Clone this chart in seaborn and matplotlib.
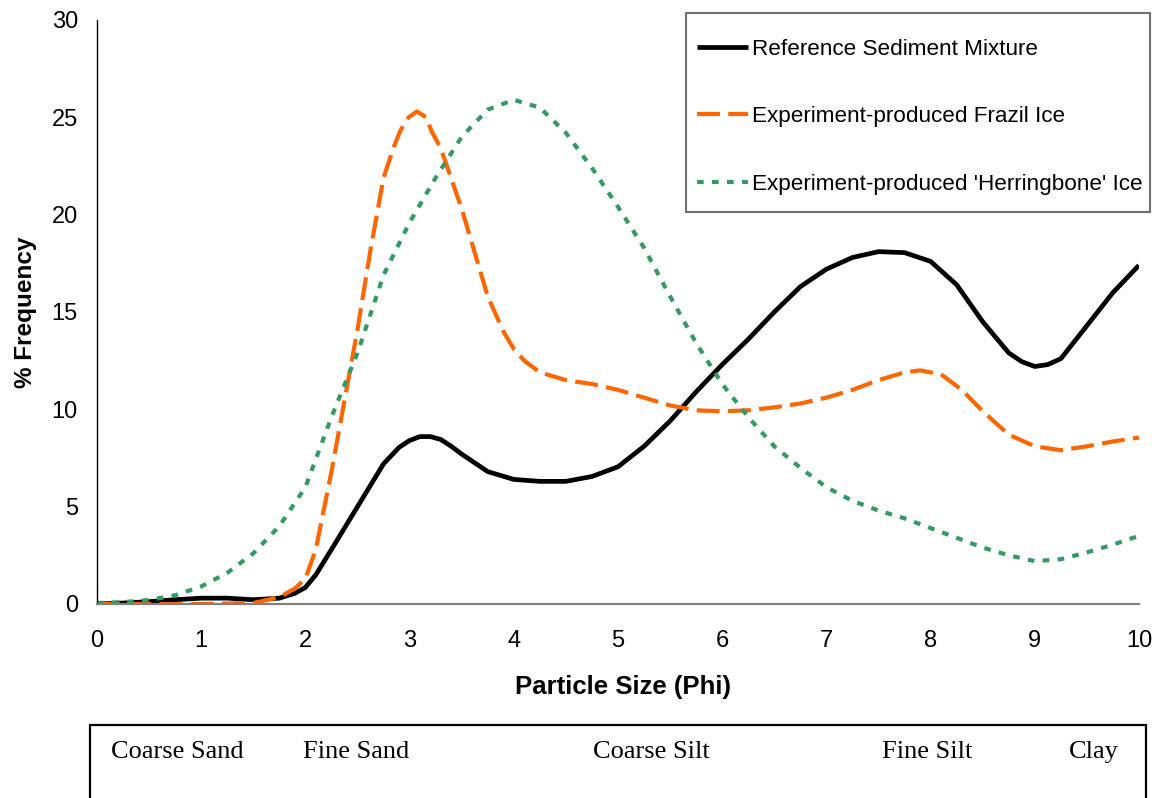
import matplotlib
matplotlib.use("Agg")
import matplotlib.pyplot as plt
from matplotlib.patches import Rectangle
import matplotlib.transforms as mtrans
import seaborn as sns
import pandas as pd

# ---- data ----
ref_phi = [0.0, 0.25, 0.5, 0.75, 1.0, 1.25, 1.5, 1.75, 1.9, 2.0, 2.1, 2.25, 2.5, 2.75, 2.9,
           3.0, 3.1, 3.2, 3.3, 3.4, 3.5, 3.75, 4.0, 4.25, 4.5, 4.75, 5.0, 5.25, 5.5, 5.75,
           6.0, 6.25, 6.5, 6.75, 7.0, 7.25, 7.5, 7.75, 8.0, 8.25, 8.5, 8.75, 8.875, 9.0,
           9.125, 9.25, 9.5, 9.75, 10.0]
ref_freq = [0.0, 0.05, 0.12, 0.22, 0.3, 0.3, 0.22, 0.3, 0.55, 0.85, 1.5, 2.8, 5.0, 7.2, 8.05,
            8.4, 8.6, 8.6, 8.45, 8.1, 7.7, 6.8, 6.4, 6.3, 6.3, 6.55, 7.05, 8.1, 9.4, 10.9,
            12.3, 13.6, 15.0, 16.3, 17.2, 17.8, 18.1, 18.05, 17.6, 16.4, 14.5, 12.9, 12.45, 12.2,
            12.3, 12.6, 14.3, 16.0, 17.4]

frazil_phi = [0.0, 0.5, 1.0, 1.5, 1.75, 1.9, 2.0, 2.1, 2.25, 2.5, 2.625, 2.75, 2.85, 2.91, 2.99,
              3.07, 3.16, 3.21, 3.3, 3.5, 3.75, 3.9, 4.0, 4.1, 4.25, 4.5, 4.75, 5.0, 5.25, 5.5,
              5.75, 6.0, 6.25, 6.5, 6.75, 7.0, 7.25, 7.5, 7.75, 7.9, 8.1, 8.3, 8.5, 8.75, 9.0,
              9.25, 9.5, 9.75, 10.0]
frazil_freq = [0.0, 0.0, 0.0, 0.05, 0.35, 0.8, 1.3, 2.8, 6.8, 14.1, 18.2, 21.9, 23.5, 24.3, 25.0,
               25.3, 25.0, 24.3, 23.4, 20.3, 15.8, 14.0, 13.1, 12.5, 11.9, 11.5, 11.3, 11.0, 10.6, 10.2,
               9.95, 9.9, 9.95, 10.1, 10.3, 10.6, 11.0, 11.5, 11.9, 12.0, 11.8, 11.0, 9.9, 8.7, 8.1,
               7.9, 8.1, 8.35, 8.55]

herring_phi = [0.0, 0.25, 0.5, 0.75, 1.0, 1.25, 1.5, 1.75, 2.0, 2.25, 2.5, 2.75, 3.0, 3.25, 3.5,
               3.75, 4.0, 4.25, 4.5, 4.75, 5.0, 5.25, 5.5, 5.75, 6.0, 6.25, 6.5, 6.75, 7.0,
               7.25, 7.5, 7.75, 8.0, 8.25, 8.5, 8.75, 9.0, 9.25, 9.5, 9.75, 10.0]
herring_freq = [0.05, 0.1, 0.2, 0.45, 0.9, 1.6, 2.6, 4.0, 6.0, 9.6, 12.9, 16.9, 19.6, 21.9, 24.0,
                25.4, 25.9, 25.5, 24.2, 22.4, 20.4, 18.3, 15.8, 13.4, 11.3, 9.6, 8.1, 7.0, 6.0,
                5.3, 4.8, 4.4, 3.9, 3.4, 2.9, 2.5, 2.2, 2.3, 2.65, 3.05, 3.5]

series_labels = ["Reference Sediment Mixture",
                 "Experiment-produced Frazil Ice",
                 "Experiment-produced 'Herringbone' Ice"]
x_ticks = [0, 1, 2, 3, 4, 5, 6, 7, 8, 9, 10]
y_ticks = [0, 5, 10, 15, 20, 25, 30]
class_labels = ["Coarse Sand", "Fine Sand", "Coarse Silt", "Fine Silt", "Clay"]
class_label_phi = [0.77, 2.49, 5.32, 7.97, 9.57]

# ---- style ----
sns.set_style("white")
plt.rcParams["font.family"] = ["Liberation Sans", "DejaVu Sans"]
plt.rcParams["text.color"] = "black"
plt.rcParams["axes.labelcolor"] = "black"
plt.rcParams["xtick.color"] = "black"
plt.rcParams["ytick.color"] = "black"
plt.rcParams["lines.solid_joinstyle"] = "round"
plt.rcParams["lines.dash_joinstyle"] = "round"

W, H = 1157, 798
fig = plt.figure(figsize=(W / 100, H / 100), dpi=100)
ax = fig.add_axes([97 / W, 1 - 604 / H, (1139 - 97) / W, (604 - 20) / H])

df_ref = pd.DataFrame({"phi": ref_phi, "freq": ref_freq})
df_fra = pd.DataFrame({"phi": frazil_phi, "freq": frazil_freq})
df_her = pd.DataFrame({"phi": herring_phi, "freq": herring_freq})

sns.lineplot(data=df_ref, x="phi", y="freq", ax=ax, color="black", lw=3.4,
             label=series_labels[0], solid_capstyle="butt")
sns.lineplot(data=df_fra, x="phi", y="freq", ax=ax, color="#FF6600", lw=3.0,
             linestyle=(0, (5.5, 2.0)), label=series_labels[1], dash_capstyle="butt")
sns.lineplot(data=df_her, x="phi", y="freq", ax=ax, color="#339966", lw=3.0,
             linestyle=(0, (1.6, 2.0)), label=series_labels[2], dash_capstyle="butt")

ax.set_xlim(0, 10)
ax.set_ylim(0, 30)
ax.set_xticks(x_ticks)
ax.set_yticks(y_ticks)
ax.set_xticklabels([str(t) for t in x_ticks])
ax.set_yticklabels([str(t) for t in y_ticks])
ax.margins(0)

for s in ["top", "right"]:
    ax.spines[s].set_visible(False)
ax.spines["left"].set_color("black")
ax.spines["left"].set_linewidth(1.0)
ax.spines["bottom"].set_color("#808080")
ax.spines["bottom"].set_linewidth(1.6)
ax.tick_params(axis="x", direction="inout", length=11.5, width=1.2, colors="#707070",
               labelcolor="black", labelsize=17, pad=13)
ax.tick_params(axis="y", direction="inout", length=11.5, width=1.0, colors="black",
               labelcolor="black", labelsize=17, pad=8)

ax.set_xlabel("Particle Size (Phi)", fontsize=18.5, fontweight="bold", color="black")
ax.set_ylabel("% Frequency", fontsize=17.5, fontweight="bold", color="black")
ax.xaxis.set_label_coords(0.505, -0.122)
ax.yaxis.set_label_coords(-0.058, 0.5)

# legend (frame drawn separately to match the reference padding)
leg = ax.legend(loc="upper left", bbox_to_anchor=(697 / W, 1 - 39 / H),
                bbox_transform=fig.transFigure, frameon=False, fontsize=16.2,
                handlelength=2.27, handletextpad=0.18, labelspacing=2.06,
                borderpad=0, borderaxespad=0)
for t in leg.get_texts():
    t.set_color("black")
fig.add_artist(Rectangle((686 / W, 1 - 212 / H), (1150 - 686) / W, (212 - 13) / H,
                         transform=fig.transFigure, fill=True, facecolor="white",
                         edgecolor="#707070", lw=1.5, zorder=2))
leg.set_zorder(3)
fig.add_artist(leg)

# grain-size class box below the chart
fig.add_artist(Rectangle((90 / W, -0.05), (1146 - 90) / W, (798 - 725) / H + 0.05,
                         transform=fig.transFigure, fill=False, edgecolor="black",
                         lw=1.6, clip_on=False))
trans = mtrans.blended_transform_factory(ax.transData, fig.transFigure)
for lab, p in zip(class_labels, class_label_phi):
    fig.text(p, 1 - 752 / H, lab, transform=trans, ha="center", va="center",
             fontsize=19, color="black", family=["Liberation Serif", "DejaVu Serif"])

fig.savefig("out.png", dpi=100)
